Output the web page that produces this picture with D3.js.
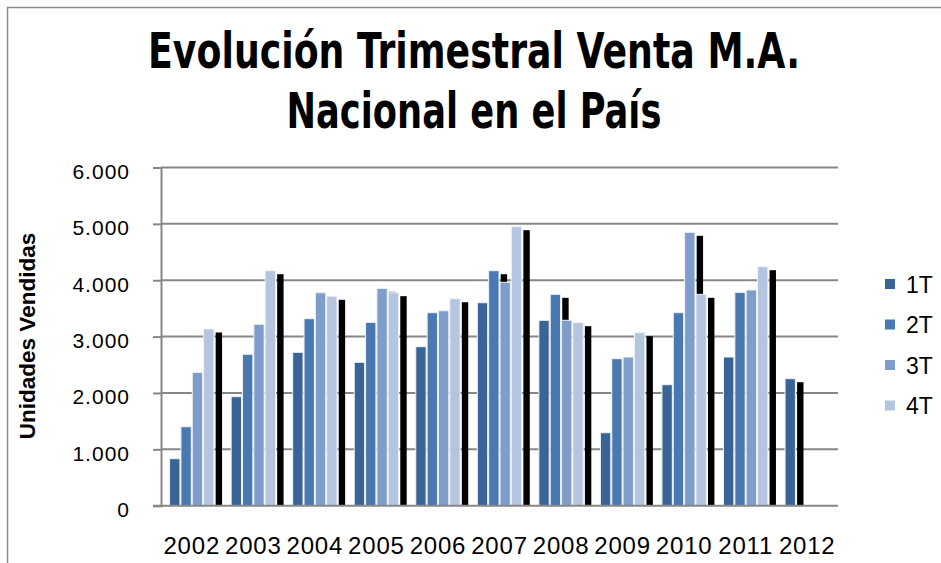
<!DOCTYPE html>
<html>
<head>
<meta charset="utf-8">
<script src="https://cdn.jsdelivr.net/npm/d3@7"></script>
<style>
  body { margin: 0; background: #fff; }
  svg { display: block; }
</style>
</head>
<body>
<div id="chart"></div>
<script>
let years = ['2002', '2003', '2004', '2005', '2006', '2007', '2008', '2009', '2010', '2011', '2012'];
let seriesNames = ['1T', '2T', '3T', '4T'];
let t1 = [834, 1934, 2721, 2544, 2821, 3601, 3289, 1295, 2147, 2638, 2253];
let t2 = [1401, 2686, 3318, 3253, 3424, 4169, 3750, 2608, 3424, 3785, null];
let t3 = [2366, 3218, 3779, 3856, 3459, 3963, 3289, 2638, 4850, 3827, null];
let t4 = [3135, 4169, 3715, 3779, 3672, 4950, 3247, 3069, 3750, 4240, null];
let yTicks = [0, 1000, 2000, 3000, 4000, 5000, 6000];
let colors = ['#3b6496', '#4a79b2', '#7f9dca', '#b5c5e0'];

const width = 941;
const height = 563;
const plot = { left: 161, right: 838, top: 167.5, bottom: 505.7 };

let series = [t1, t2, t3, t4];
let bars = [];
years.forEach((yr, i) => {
    series.forEach((s, j) => {
        if (s[i] != null) bars.push({ year: yr, name: seriesNames[j], idx: j, value: s[i] });
    });
});

let fmt = d3.formatLocale({ decimal: ',', thousands: '.', grouping: [3], currency: ['', ''] }).format(',');

var svg = d3.select('#chart')
    .append('svg')
    .attr('width', width)
    .attr('height', height);

svg.append('rect')
    .attr('width', width)
    .attr('height', height)
    .attr('fill', '#fff');

// chart frame, runs off the right and bottom edges
svg.append('rect')
    .attr('x', 7.5)
    .attr('y', 7.5)
    .attr('width', 1000)
    .attr('height', 1000)
    .attr('fill', 'none')
    .attr('stroke', '#8c8c8c')
    .attr('stroke-width', 1.5);

var x = d3.scaleBand()
    .domain(years)
    .range([plot.left, plot.right]);

var xInner = d3.scaleBand()
    .domain(seriesNames)
    .range([8.1, x.bandwidth() - 8.1]);

var y = d3.scaleLinear()
    .domain([0, 6000])
    .range([plot.bottom, plot.top]);

// gridlines
svg.append('g')
    .selectAll('line')
    .data(yTicks.filter(d => d > 0))
    .join('line')
    .attr('x1', plot.left)
    .attr('x2', plot.right)
    .attr('y1', d => y(d))
    .attr('y2', d => y(d))
    .attr('stroke', '#878787')
    .attr('stroke-width', 2);

var bw = xInner.bandwidth();

// black offset shadows drawn first, so the next bar hides them
svg.append('g')
    .selectAll('rect')
    .data(bars)
    .join('rect')
    .attr('x', d => x(d.year) + xInner(d.name) + bw + 1.2)
    .attr('y', d => y(d.value) + 3.5)
    .attr('width', 6.4)
    .attr('height', d => plot.bottom - y(d.value) - 3.5)
    .attr('fill', '#000');

svg.append('g')
    .selectAll('rect')
    .data(bars)
    .join('rect')
    .attr('x', d => x(d.year) + xInner(d.name) + 0.5)
    .attr('y', d => y(d.value))
    .attr('width', bw - 1)
    .attr('height', d => plot.bottom - y(d.value))
    .attr('fill', d => colors[d.idx])
    .attr('stroke', '#eef2f8')
    .attr('stroke-width', 1);

// y axis
var yAxis = svg.append('g')
    .attr('transform', `translate(${plot.left},0)`)
    .call(d3.axisLeft(y).tickValues(yTicks).tickSize(8).tickPadding(23).tickFormat(fmt));

yAxis.select('.domain').attr('stroke', '#878787').attr('stroke-width', 2);
yAxis.selectAll('.tick line').attr('stroke', '#878787').attr('stroke-width', 2);
yAxis.selectAll('.tick text')
    .attr('fill', '#000')
    .attr('dy', '0.52em')
    .style('font-family', 'Arial, "Liberation Sans", sans-serif')
    .style('font-size', '21px')
    .style('letter-spacing', '1px');

// x axis
var xAxis = svg.append('g')
    .attr('transform', `translate(0,${plot.bottom})`)
    .call(d3.axisBottom(x).tickSize(0).tickPadding(0));

xAxis.select('.domain').remove();
svg.append('line')
    .attr('x1', plot.left - 8)
    .attr('x2', plot.right)
    .attr('y1', plot.bottom)
    .attr('y2', plot.bottom)
    .attr('stroke', '#878787')
    .attr('stroke-width', 2);

xAxis.selectAll('.tick text')
    .attr('fill', '#000')
    .attr('y', 48)
    .attr('dy', 0)
    .style('font-family', 'Arial, "Liberation Sans", sans-serif')
    .style('font-size', '24px')
    .style('letter-spacing', '0.8px');

// y axis title
svg.append('text')
    .attr('transform', 'translate(35,336) rotate(-90)')
    .attr('text-anchor', 'middle')
    .style('font-family', 'Arial, "Liberation Sans", sans-serif')
    .style('font-weight', 'bold')
    .style('font-size', '22.5px')
    .text('Unidades Vendidas');

// title, squeezed horizontally to the reference widths
let titleLines = ['Evolución Trimestral Venta M.A.', 'Nacional en el País'];
let titleWidths = [652, 375];
svg.append('g')
    .selectAll('text')
    .data(titleLines)
    .join('text')
    .attr('text-anchor', 'middle')
    .style('font-family', '"Liberation Sans Narrow", "DejaVu Sans Condensed", Arial, sans-serif')
    .style('font-weight', 'bold')
    .style('font-size', '50px')
    .text(d => d)
    .attr('transform', function(d, i) {
        let k = titleWidths[i] / this.getComputedTextLength();
        return `translate(474,${68 + i * 60}) scale(${k},1)`;
    });

// legend
var legend = svg.append('g')
    .selectAll('g')
    .data(seriesNames)
    .join('g')
    .attr('transform', (d, i) => `translate(885,${284 + i * 40.5})`);

legend.append('rect')
    .attr('x', 0)
    .attr('y', -5)
    .attr('width', 10)
    .attr('height', 10)
    .attr('fill', (d, i) => colors[i]);

legend.append('text')
    .attr('x', 21)
    .attr('y', 8.5)
    .style('font-family', 'Arial, "Liberation Sans", sans-serif')
    .style('font-size', '23px')
    .text(d => d);
</script>
</body>
</html>
